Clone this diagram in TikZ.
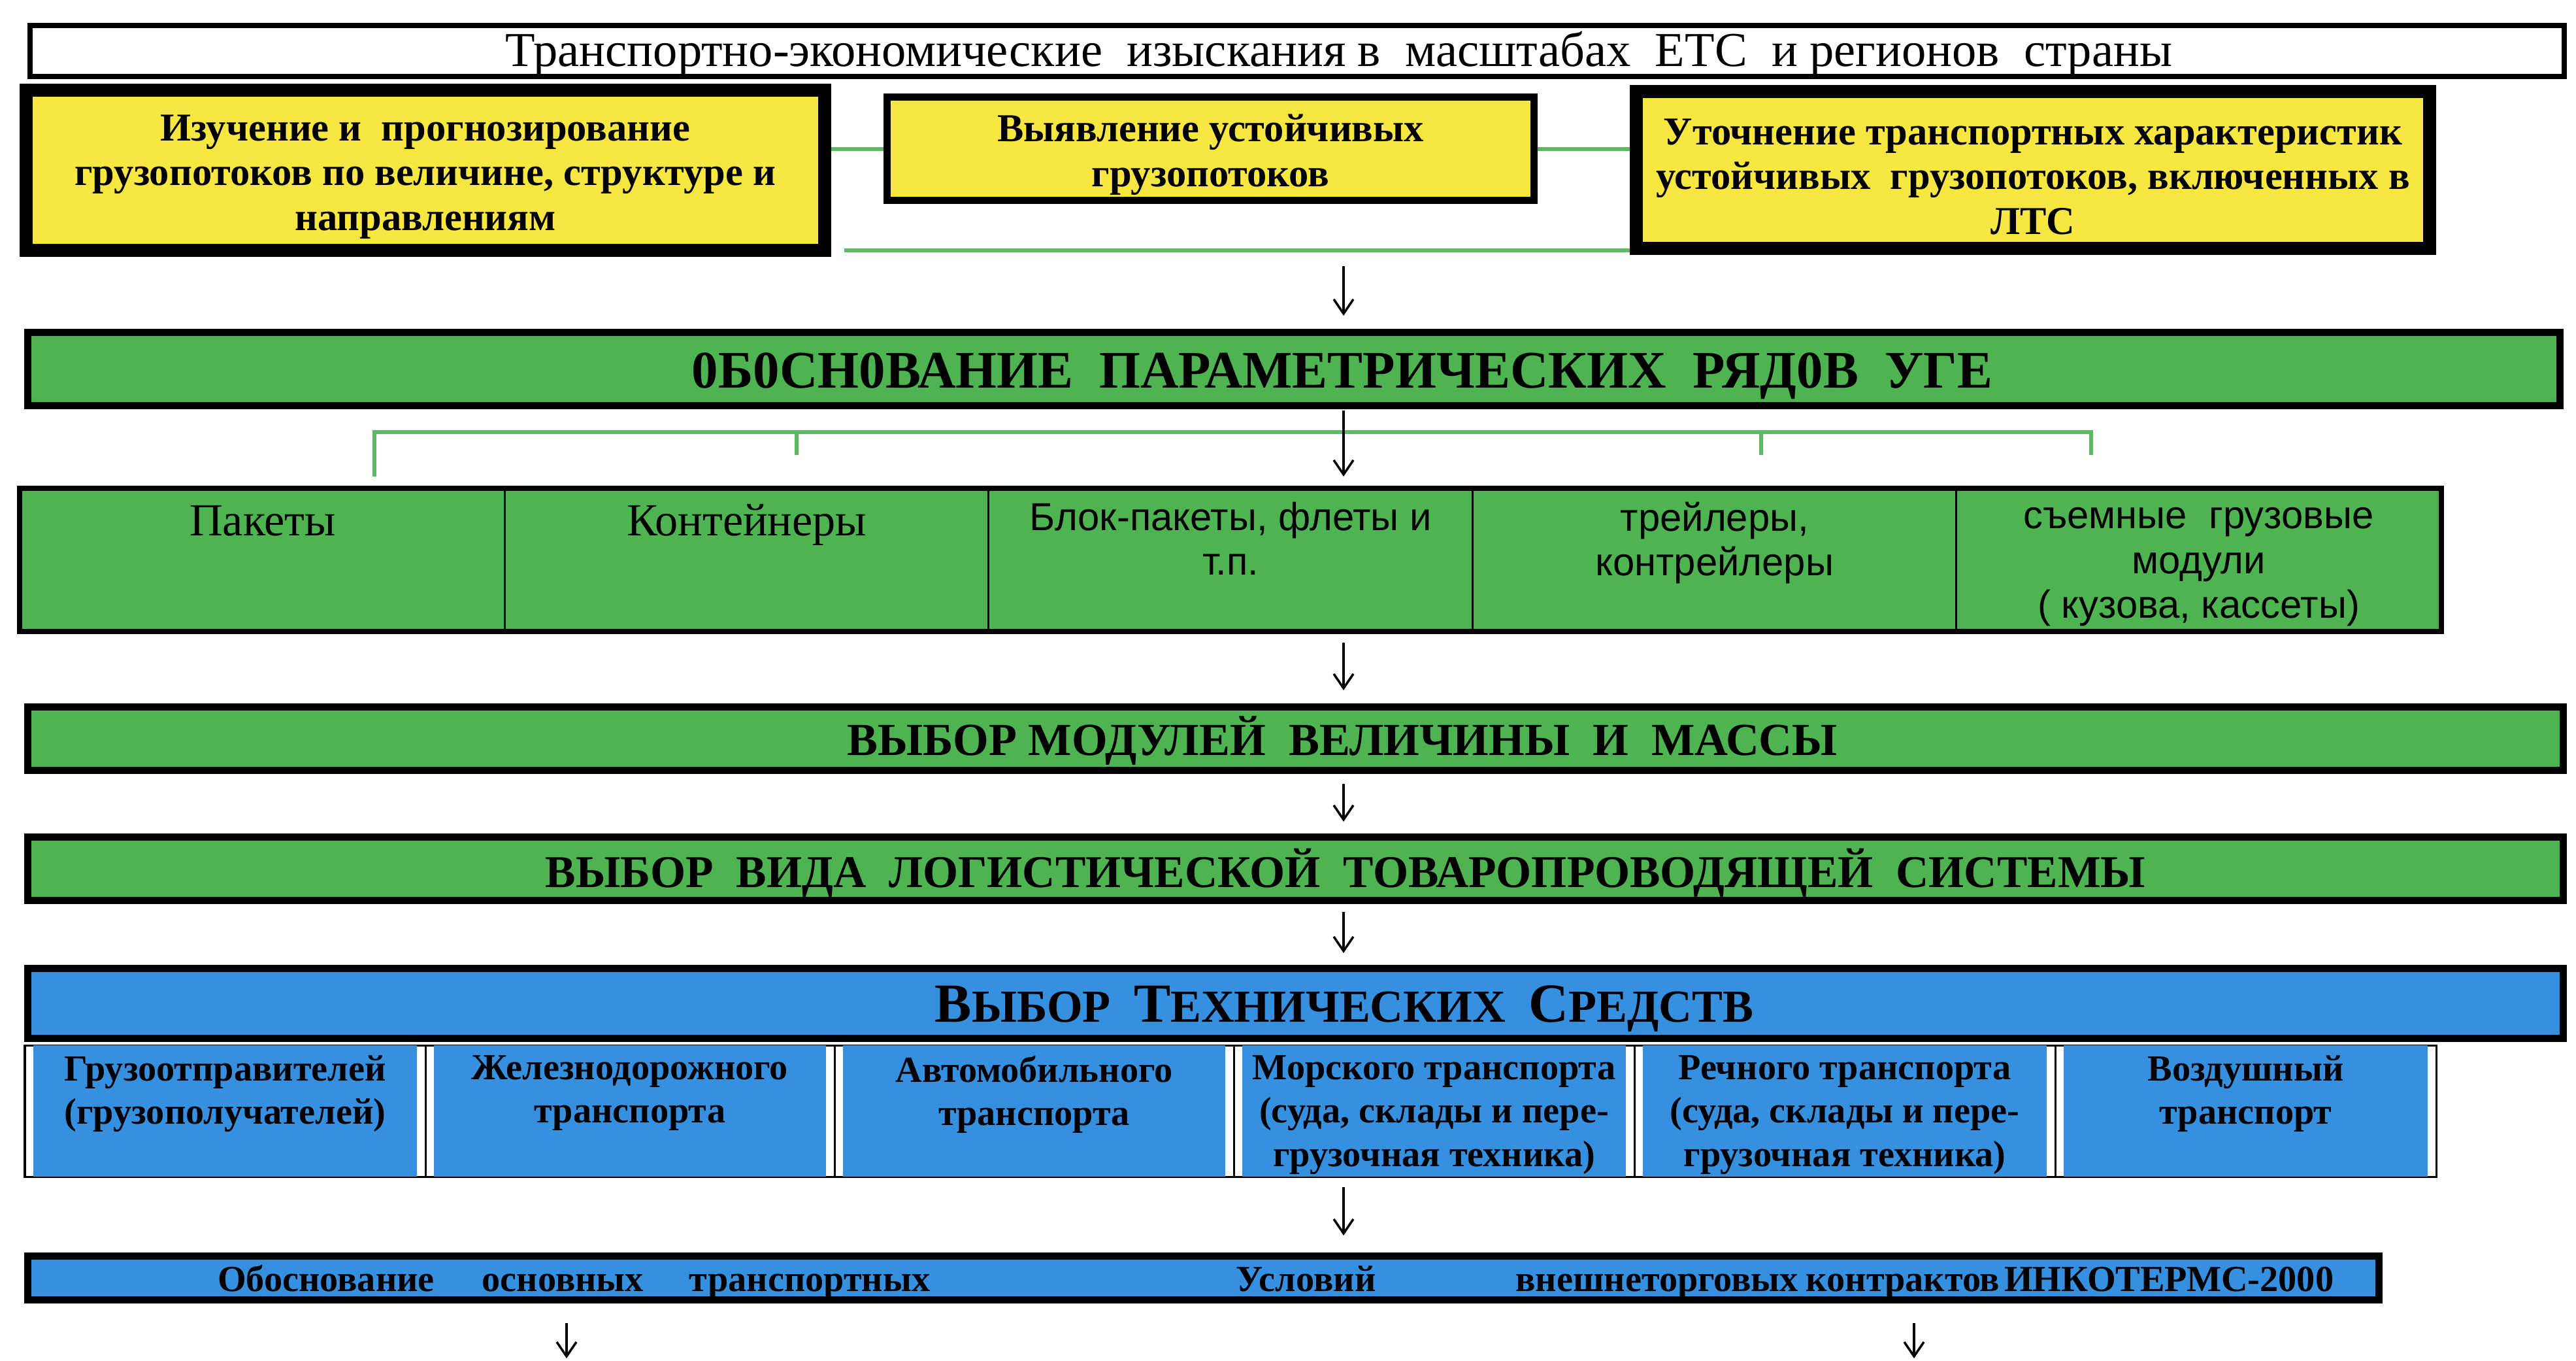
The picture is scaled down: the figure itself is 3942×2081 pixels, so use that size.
\documentclass[tikz,border=0pt]{standalone}
\usepackage{fontspec}
\setmainfont{Liberation Serif}
\setsansfont{Liberation Sans}
\usepackage{xcolor}
\usetikzlibrary{arrows.meta}

\definecolor{boxyellow}{RGB}{248,231,64}
\definecolor{bargreen}{RGB}{78,180,82}
\definecolor{linkgreen}{RGB}{92,186,100}
\definecolor{barblue}{RGB}{54,144,224}

\newcommand{\capl}[1]{{\fontsize{24pt}{26pt}\selectfont #1}}
\newcommand{\lift}{\rule{0pt}{17pt}}

\begin{document}
\begin{tikzpicture}[x=0.01cm, y=-0.01cm,
  task/.style={draw=black, fill=boxyellow, align=center, inner sep=0pt,
    font=\fontsize{17.2pt}{19.5pt}\selectfont\bfseries},
  bar/.style={draw=black, line width=0.11cm, inner sep=0pt, minimum width=38.78cm},
  head/.style={inner sep=0pt, font=\fontsize{20pt}{24pt}\selectfont\bfseries},
  gcell/.style={draw=black, line width=0.03cm, fill=bargreen, inner sep=0pt,
    minimum width=7.406cm, minimum height=2.16cm, anchor=north west},
  bcell/.style={fill=barblue, inner sep=0pt, minimum height=2.01cm},
  serifcell/.style={inner sep=0pt, anchor=north, align=center, font=\fontsize{20pt}{24pt}\selectfont},
  sanscell/.style={inner sep=0pt, anchor=north, align=center, font=\sffamily\fontsize{17pt}{19.4pt}\selectfont},
  blabel/.style={inner sep=0pt, anchor=north, align=center, font=\fontsize{16pt}{18.8pt}\selectfont\bfseries},
  link/.style={draw=linkgreen, line width=0.06cm},
  arr/.style={-{Straight Barb[length=0.22cm,width=0.3cm]}, line width=0.035cm},
]
\useasboundingbox (0,0) rectangle (3942,2081);

% top: surveys and the three yellow tasks
\node[draw, line width=0.08cm, inner sep=0pt, minimum width=38.76cm, minimum height=0.78cm] (survey) at (1985,78) {};
\node[inner sep=0pt, font=\fontsize{21.2pt}{24pt}\selectfont] (survey-t) at (2049,83)
  {Транспортно-экономические~ изыскания в~ масштабах~ ЕТС~ и регионов~ страны};

\node[task, line width=0.2cm, minimum width=12.22cm, minimum height=2.45cm] (study) at (651,260.5)
  {\lift Изучение и~ прогнозирование\\грузопотоков по величине, структуре и\\направлениям};
\node[task, line width=0.11cm, minimum width=9.9cm, minimum height=1.58cm] (reveal) at (1852.5,227.5)
  {\lift Выявление устойчивых\\грузопотоков};
\node[task, line width=0.2cm, minimum width=12.14cm, minimum height=2.4cm] (refine) at (3111,260)
  {\lift Уточнение транспортных характеристик\\устойчивых~ грузопотоков, включенных в\\ЛТС};

\coordinate (fb) at (1292,383);
\draw[link] (reveal.west) -- (reveal.west -| study.east);
\draw[link] (reveal.east) -- (reveal.east -| refine.west);
\draw[link] (fb) -- (fb -| refine.west);

\coordinate (a1) at (2056,407);

% parametric rows
\node[bar, fill=bargreen, minimum width=38.73cm, minimum height=1.12cm] (basis) at (1980,564.5) {};
\node[head, font=\fontsize{23pt}{26pt}\selectfont\bfseries] (basis-t) at (2054,575)
  {0Б0СН0ВАНИЕ~ ПАРАМЕТРИЧЕСКИХ~ РЯД0В~ УГЕ};
\draw[arr, shorten >=0.2cm] (a1) -- (a1 |- basis.north);

\coordinate (bl) at (573,729);
\coordinate (br) at (3200,696);
\coordinate (brk) at (0,661);
\draw[link] (bl) -- (bl |- brk) -- (br |- brk) -- (br);
\draw[link] (1219,661) -- (1219,696);
\draw[link] (2695,661) -- (2695,696);

\node[gcell] (u0) at (30,747) {};
\node[gcell] (u1) at (770.6,747) {};
\node[gcell] (u2) at (1511.2,747) {};
\node[gcell] (u3) at (2251.8,747) {};
\node[gcell] (u4) at (2992.4,747) {};
\draw[line width=0.08cm] (u0.north west) rectangle (u4.south east);
\node[serifcell] (u0-t) at ([yshift=-0.26cm]u0.north) {Пакеты};
\node[serifcell] (u1-t) at ([yshift=-0.24cm]u1.north) {Контейнеры};
\node[sanscell] (u2-t) at ([yshift=-0.2cm]u2.north) {Блок-пакеты, флеты и\\т.п.};
\node[sanscell] (u3-t) at ([yshift=-0.2cm]u3.north) {трейлеры,\\контрейлеры};
\node[sanscell] (u4-t) at ([yshift=-0.2cm]u4.north) {\vphantom{Б}съемные~ грузовые\\модули\\( кузова, кассеты)};
\draw[arr, shorten <=0.02cm, shorten >=0.18cm] (basis.south -| a1) -- (u2.north -| a1);

% choices
\node[bar, fill=bargreen, minimum height=0.97cm] (modules) at (1982.5,1130) {};
\node[head] (modules-t) at (2054,1133) {ВЫБОР МОДУЛЕЙ~ ВЕЛИЧИНЫ~ И~ МАССЫ};
\node[bar, fill=bargreen, minimum height=0.97cm] (system) at (1982.5,1329) {};
\node[head, font=\fontsize{19.8pt}{24pt}\selectfont\bfseries] (system-t) at (2059,1335)
  {ВЫБОР~ ВИДА~ ЛОГИСТИЧЕСКОЙ~ ТОВАРОПРОВОДЯЩЕЙ~ СИСТЕМЫ};
\draw[arr, shorten <=0.17cm, shorten >=0.2cm] (u2.south -| a1) -- (modules.north -| a1);
\draw[arr, shorten <=0.15cm, shorten >=0.18cm] (modules.south -| a1) -- (system.north -| a1);

% technical means
\draw[line width=0.03cm, fill=white] (38,1599) rectangle (3728,1800);
\node[bcell, minimum width=5.87cm] (t1) at (344.5,1699.5) {};
\node[bcell, minimum width=6.00cm] (t2) at (964,1699.5) {};
\node[bcell, minimum width=5.85cm] (t3) at (1582.5,1699.5) {};
\node[bcell, minimum width=5.87cm] (t4) at (2194.5,1699.5) {};
\node[bcell, minimum width=6.18cm] (t5) at (2823,1699.5) {};
\node[bcell, minimum width=5.57cm] (t6) at (3436.5,1699.5) {};
\foreach \x in {651,1277,1888,2501,3145}
  \draw[line width=0.03cm] (\x,1599) -- (\x,1800);
\node[blabel] (t1-t) at ([yshift=-0.16cm]t1.north) {Грузоотправителей\\(грузополучателей)};
\node[blabel] (t2-t) at ([yshift=-0.16cm]t2.north) {Железнодорожного\\транспорта};
\node[blabel] (t3-t) at ([yshift=-0.16cm]t3.north) {Автомобильного\\транспорта};
\node[blabel] (t4-t) at ([yshift=-0.16cm]t4.north) {Морского транспорта\\(суда, склады и пере-\\грузочная техника)};
\node[blabel] (t5-t) at ([yshift=-0.16cm]t5.north) {Речного транспорта\\(суда, склады и пере-\\грузочная техника)};
\node[blabel] (t6-t) at ([yshift=-0.16cm]t6.north) {Воздушный\\транспорт};

\node[bar, fill=barblue, minimum height=1.07cm] (means) at (1982.5,1535) {};
\node[head] (means-t) at (2057,1543) {\capl{В}ЫБОР~ \capl{Т}ЕХНИЧЕСКИХ~ \capl{С}РЕДСТВ};
\draw[arr, shorten <=0.12cm, shorten >=0.18cm] (system.south -| a1) -- (means.north -| a1);

% contracts
\node[bar, fill=barblue, minimum width=35.96cm, minimum height=0.67cm] (terms) at (1841.5,1955) {};
\node[inner sep=0pt, font=\fontsize{16pt}{18pt}\selectfont\bfseries] (terms-t) at (1952,1961)
  {\hbox to 32.36cm{Обоснование\hskip 0.73cm plus 1fil основных\hskip 0.70cm plus 1fil
   транспортных\hskip 4.68cm plus 1fil Условий\hskip 2.14cm plus 1fil
   внешнеторговых\hskip 0.12cm контрактов\hskip 0.07cm ИНКОТЕРМС-2000}};
\draw[arr, shorten <=0.15cm, shorten >=0.26cm] (t4.south -| a1) -- (terms.north -| a1);

\coordinate (e1) at (867,2078);
\coordinate (e2) at (2929,2078);
\draw[arr, shorten <=0.3cm] (terms.south -| e1) -- (e1);
\draw[arr, shorten <=0.3cm] (terms.south -| e2) -- (e2);
\end{tikzpicture}
\end{document}
